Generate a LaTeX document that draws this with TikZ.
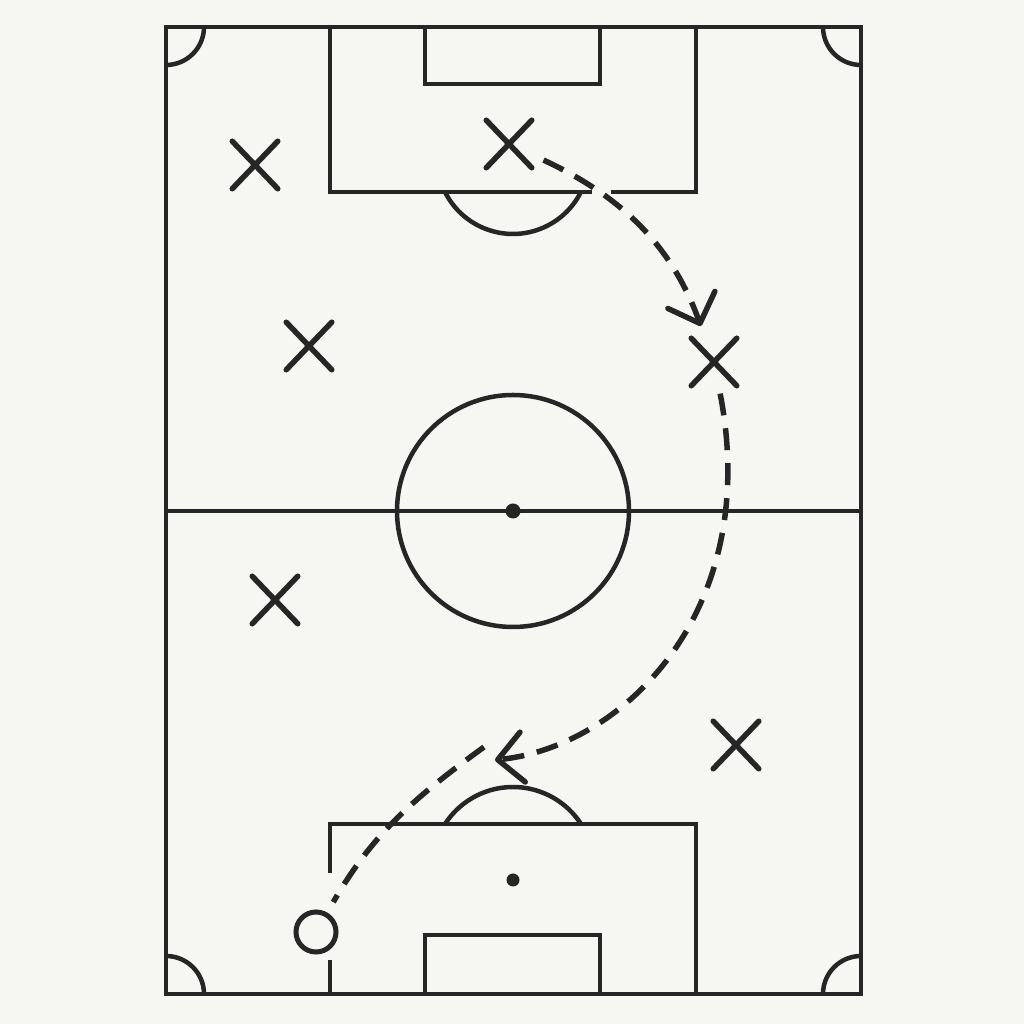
\documentclass[tikz,border=0pt]{standalone}
\usepackage{xcolor}
\usepackage{tikz}
\usetikzlibrary{arrows.meta,shapes.misc}
\definecolor{ink}{HTML}{262626}
\definecolor{paper}{HTML}{F6F6F3}
\tikzset{
  pline/.style={draw=ink,line width=0.045cm},
  plyr/.style={cross out,draw=ink,line width=0.055cm,line cap=round,
    minimum width=0.4cm,minimum height=0.42cm,inner sep=0pt},
  opp/.style={circle,draw=ink,line width=0.05cm,minimum size=0.4cm,inner sep=0pt},
  run/.style={draw=ink,line width=0.055cm,dash pattern=on 0.22cm off 0.13cm},
  arr/.style={run,-{Straight Barb[length=0.25cm,width=0.5cm,round]}},
}

\begin{document}
\begin{tikzpicture}[x=0.01cm,y=0.01cm]
\fill[paper] (0,0) rectangle (1024,1024);
\useasboundingbox (0,0) rectangle (1024,1024);

\draw[pline] (166,30) rectangle (861,997);
\draw[pline] (166,513) -- (861,513);
\draw[pline] (513,513) circle[radius=116];
\fill[ink] (513,513) circle[radius=7.5];

\draw[pline] (330,997) -- (330,832) -- (592,832) (611,832) -- (696,832) -- (696,997);
\draw[pline] (425,997) -- (425,940) -- (600,940) -- (600,997);
\draw[pline] (445,832) arc[start angle=206.6,end angle=333.4,radius=76];

\draw[pline] (330,151) -- (330,200) -- (696,200) -- (696,30);
\draw[pline] (330,64) -- (330,30);
\draw[pline] (425,30) -- (425,89) -- (600,89) -- (600,30);
\draw[pline] (445,200) arc[start angle=147.1,end angle=32.9,radius=81];
\fill[ink] (513,144) circle[radius=6.5];

\draw[pline] (204,997) arc[start angle=0,end angle=-90,radius=38];
\draw[pline] (823,997) arc[start angle=180,end angle=270,radius=38];
\draw[pline] (166,68) arc[start angle=90,end angle=0,radius=38];
\draw[pline] (861,68) arc[start angle=90,end angle=180,radius=38];

\node[plyr] (p1) at (509,880) {};
\node[plyr] (p2) at (255,859) {};
\node[plyr] (p3) at (309,678) {};
\node[plyr] (p4) at (714,662) {};
\node[plyr] (p5) at (275,424) {};
\node[plyr] (p6) at (736,279) {};
\node[opp] (o1) at (316,92) {};
\coordinate (k1) at (495,264);
\coordinate (k2) at (484,277);

\draw[arr,shorten <=0.13cm,shorten >=0.13cm] (p1) to[out=-25,in=110] (p4);
\draw[arr,shorten <=0.08cm] (p4) to[out=-79,in=6,out looseness=1.34,in looseness=0.76] (k1);
\draw[run,shorten >=0.12cm] (k2) to[out=216,in=60] (o1);
\end{tikzpicture}
\end{document}
